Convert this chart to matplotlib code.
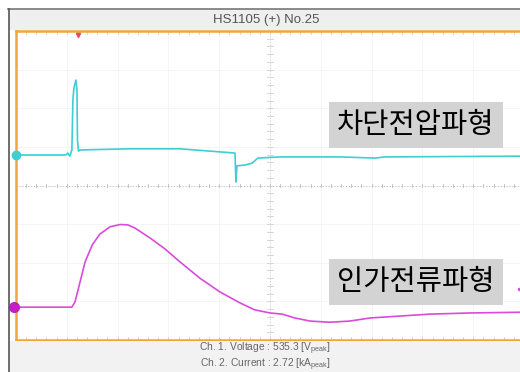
import matplotlib.pyplot as plt
from matplotlib.patches import Rectangle

plt.rcParams['font.family'] = ['Noto Sans CJK KR', 'DejaVu Sans']

# time in divisions (center = 0), values in divisions (center = 0)
volt_t = [-5.00, -4.02, -3.98, -3.94, -3.90, -3.88, -3.86, -3.82, -3.80, -3.79, -3.77, -3.74,
          -2.76, -1.77, -1.18, -0.69, -0.67, -0.65, -0.49, -0.35, -0.24, 0.20, 1.38, 2.07,
          2.26, 3.54, 5.00]
volt_v = [0.79, 0.79, 0.84, 0.76, 0.92, 2.21, 2.53, 2.73, 2.47, 1.18, 0.89, 0.92,
          0.95, 0.95, 0.89, 0.84, 0.09, 0.51, 0.53, 0.58, 0.71, 0.74, 0.74, 0.71,
          0.74, 0.75, 0.76]

curr_t = [-5.00, -3.90, -3.84, -3.78, -3.64, -3.50, -3.35, -3.15, -2.95, -2.80, -2.66,
          -2.36, -2.07, -1.77, -1.38, -0.98, -0.59, -0.30, 0.00, 0.24, 0.49, 0.79,
          1.18, 1.57, 1.97, 2.56, 3.15, 3.94, 5.00]
curr_v = [-3.15, -3.15, -3.02, -2.71, -1.98, -1.54, -1.26, -1.07, -1.01, -1.02, -1.10,
          -1.36, -1.64, -1.98, -2.40, -2.76, -3.04, -3.22, -3.30, -3.33, -3.43, -3.51,
          -3.54, -3.51, -3.43, -3.38, -3.33, -3.30, -3.28]

title = 'HS1105 (+) No.25'
label_v = '차단전압파형'
label_c = '인가전류파형'
info1 = 'Ch. 1. Voltage : 535.3 [V$_{\\mathregular{peak}}$]'
info2 = 'Ch. 2. Current : 2.72 [kA$_{\\mathregular{peak}}$]'

W, H = 520, 372
fig = plt.figure(figsize=(W / 100, H / 100), dpi=100)
fig.patch.set_facecolor('white')

def fx(px):
    return px / W

def fy(py):
    return (H - py) / H

# title bar and bottom strip
fig.patches.append(Rectangle((fx(9), fy(30)), fx(520), 21 / H, transform=fig.transFigure,
                             facecolor='#EFEFEF', edgecolor='none'))
fig.patches.append(Rectangle((fx(9), 0), fx(520), 31 / H, transform=fig.transFigure,
                             facecolor='#F2F2F2', edgecolor='none'))
fig.add_artist(plt.Line2D([fx(8), 1], [fy(9), fy(9)], color='#777777', lw=1.2))
fig.add_artist(plt.Line2D([fx(9), fx(9)], [0, fy(9)], color='#555555', lw=1.2))
fig.text(fx(266), fy(20), title, ha='center', va='center', fontsize=9.5,
         color='#555555', family=['Liberation Sans'])
fig.text(fx(265), fy(348.5), info1, ha='center', va='center', fontsize=7.4,
         color='#666666', family=['Liberation Sans'])
fig.text(fx(265), fy(364.5), info2, ha='center', va='center', fontsize=7.4,
         color='#666666', family=['Liberation Sans'])

ax = fig.add_axes([fx(16), fy(340), fx(524) - fx(16), fy(31) - fy(340)])
ax.set_xlim(-5, 5)
ax.set_ylim(-4, 4)
ax.set_facecolor('white')
for s in ax.spines.values():
    s.set_color('#F0A63A')
    s.set_linewidth(1.8)
ax.set_xticks([])
ax.set_yticks([])

# faint grid
for g in range(-4, 5):
    ax.axvline(g, color='#F4F4F4', lw=0.6, zorder=0)
for g in range(-3, 4):
    ax.axhline(g, color='#F4F4F4', lw=0.6, zorder=0)
ax.axhline(0, color='#BBBBBB', lw=0.7, ls=(0, (1, 2)), zorder=1)
ax.axvline(0, color='#D0D0D0', lw=0.7, ls=(0, (1, 2)), zorder=1)
for k in range(-25, 26):
    ax.plot([k / 5, k / 5], [4, 3.93], color='#E8C9A0', lw=0.6, clip_on=False)
    ax.plot([k / 5, k / 5], [-4, -3.93], color='#E8C9A0', lw=0.6, clip_on=False)
    ax.plot([k / 5, k / 5], [-0.05, 0.05], color='#BBBBBB', lw=0.6)
for k in range(-20, 21):
    ax.plot([-0.05, 0.05], [k / 5, k / 5], color='#D0D0D0', lw=0.6)

ax.plot(volt_t, volt_v, color='#3DCFD2', lw=1.2, zorder=3)
ax.plot(curr_t, curr_v, color='#D94BD9', lw=1.2, zorder=3)

# channel markers and trigger mark
ax.plot([-5], [volt_v[0]], 'o', color='#3DCFD2', ms=6, clip_on=False, zorder=4)
ax.plot([-5.04], [curr_v[0]], 'o', color='#C020C0', ms=7, clip_on=False, zorder=4)
ax.plot([-3.77], [3.9], 'v', color='#E05050', ms=3, clip_on=False, zorder=4)
ax.plot([4.9], [-2.68], '.', color='#D94BD9', ms=3, zorder=4)

box = dict(boxstyle='square,pad=0.28', facecolor='#D3D3D3', edgecolor='none')
ax.text(2.87, 1.57, label_v, ha='center', va='center', fontsize=20.5, color='black', bbox=box)
ax.text(2.87, -2.5, label_c, ha='center', va='center', fontsize=20.5, color='black', bbox=box)

fig.savefig('out.png', dpi=100)
